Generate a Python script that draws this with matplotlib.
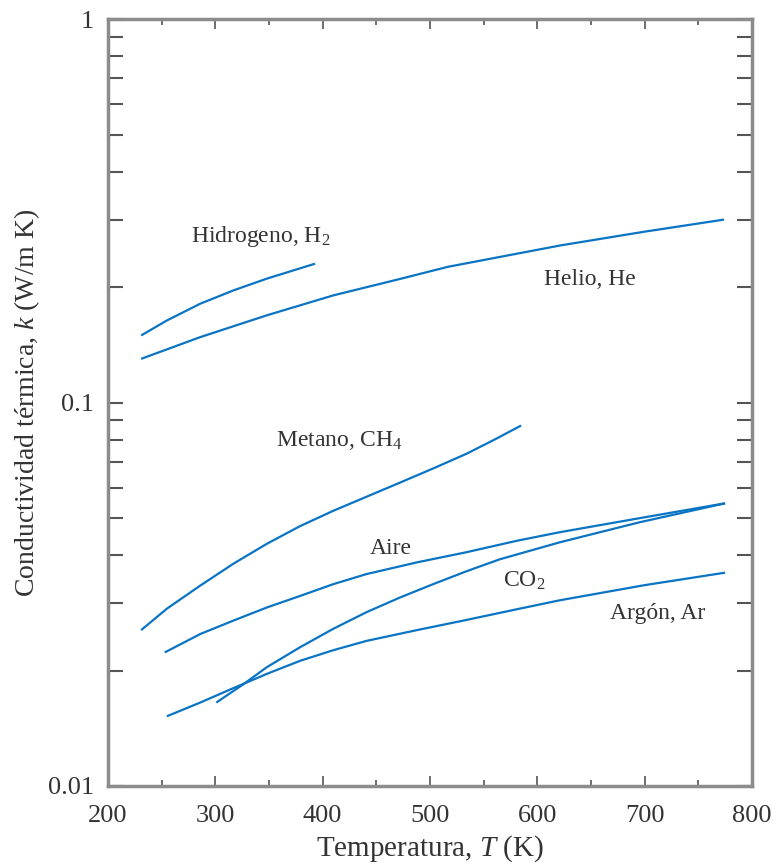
import matplotlib
matplotlib.use("Agg")
import matplotlib.pyplot as plt
from matplotlib.ticker import LogLocator, FixedLocator, NullFormatter, FixedFormatter

plt.rcParams["font.family"] = ["Liberation Serif", "DejaVu Serif"]
plt.rcParams["mathtext.fontset"] = "custom"
plt.rcParams["mathtext.rm"] = "Liberation Serif"
plt.rcParams["mathtext.it"] = "Liberation Serif:italic"

# temperature (K) and conductivity (W/m K)
h2_T = [231, 255, 286, 317, 348, 393]
h2_k = [0.1496, 0.1637, 0.1810, 0.1961, 0.2104, 0.2302]

he_T = [231, 286, 348, 410, 472, 517, 622, 700, 774]
he_k = [0.1300, 0.1481, 0.1688, 0.1903, 0.2100, 0.2260, 0.257, 0.279, 0.300]

ch4_T = [231, 255, 286, 317, 348, 379, 410, 441, 472, 503, 534, 560, 585]
ch4_k = [0.0255, 0.0290, 0.0333, 0.0380, 0.0428, 0.0476, 0.0522, 0.0568,
         0.0618, 0.0673, 0.0735, 0.0800, 0.0871]

air_T = [253, 286, 317, 348, 379, 410, 441, 488, 534, 581, 621, 700, 775]
air_k = [0.0223, 0.0249, 0.0270, 0.0292, 0.0313, 0.0336, 0.0357, 0.0383,
         0.0407, 0.0436, 0.0459, 0.0502, 0.0546]

co2_T = [301, 326, 348, 379, 410, 441, 472, 503, 534, 565, 621, 695, 775]
co2_k = [0.0165, 0.0184, 0.0204, 0.0230, 0.0257, 0.0284, 0.0310, 0.0336,
         0.0363, 0.0390, 0.0432, 0.0487, 0.0546]

ar_T = [255, 286, 317, 348, 379, 410, 441, 488, 534, 581, 621, 700, 775]
ar_k = [0.0152, 0.0165, 0.0180, 0.0196, 0.0212, 0.0226, 0.0239, 0.0255,
        0.0271, 0.0289, 0.0305, 0.0334, 0.0360]

labels = ["Hidrogeno, H$_2$", "Helio, He", "Metano, CH$_4$", "Aire", "CO$_2$", "Argón, Ar"]
label_T = [342, 649, 416, 464, 588, 712]
label_k = [0.271, 0.209, 0.0796, 0.0416, 0.0343, 0.0281]

blue = "#0a74c4"
grey = "#8c8c8c"
txt_col = "#333333"

fig = plt.figure(figsize=(7.76, 8.68), dpi=100)
ax = fig.add_axes([0.139, 0.0945, 0.830, 0.8835])

for T, k in [(h2_T, h2_k), (he_T, he_k), (ch4_T, ch4_k),
             (air_T, air_k), (co2_T, co2_k), (ar_T, ar_k)]:
    ax.plot(T, k, color=blue, lw=1.6, solid_capstyle="butt", solid_joinstyle="round")

for txt, T, k in zip(labels, label_T, label_k):
    ax.text(T, k, txt, ha="center", va="center", fontsize=17, color=txt_col)

ax.set_yscale("log")
ax.set_xlim(200, 800)
ax.set_ylim(0.01, 1)

ax.xaxis.set_major_locator(FixedLocator([200, 300, 400, 500, 600, 700, 800]))
ax.xaxis.set_minor_locator(FixedLocator([250, 350, 450, 550, 650, 750]))
ax.yaxis.set_major_locator(FixedLocator([0.01, 0.1, 1]))
ax.yaxis.set_major_formatter(FixedFormatter(["0.01", "0.1", "1"]))
ax.yaxis.set_minor_locator(LogLocator(base=10, subs=range(2, 10)))
ax.yaxis.set_minor_formatter(NullFormatter())

ax.tick_params(axis="both", which="both", direction="in", top=True, right=True,
               color="#555555", labelsize=19, labelcolor=txt_col)
ax.tick_params(axis="x", which="major", length=7, width=1.2, pad=14)
ax.tick_params(axis="x", which="minor", length=4, width=1.2)
ax.tick_params(axis="y", which="both", length=11, width=1.5, pad=10)

for s in ax.spines.values():
    s.set_color(grey)
    s.set_linewidth(2.5)

ax.set_xlabel("Temperatura, $T$ (K)", fontsize=21, color=txt_col, labelpad=4)
ax.set_ylabel("Conductividad térmica, $k$ (W/m K)", fontsize=20, color=txt_col, labelpad=4)

fig.savefig("out.png", dpi=100)
